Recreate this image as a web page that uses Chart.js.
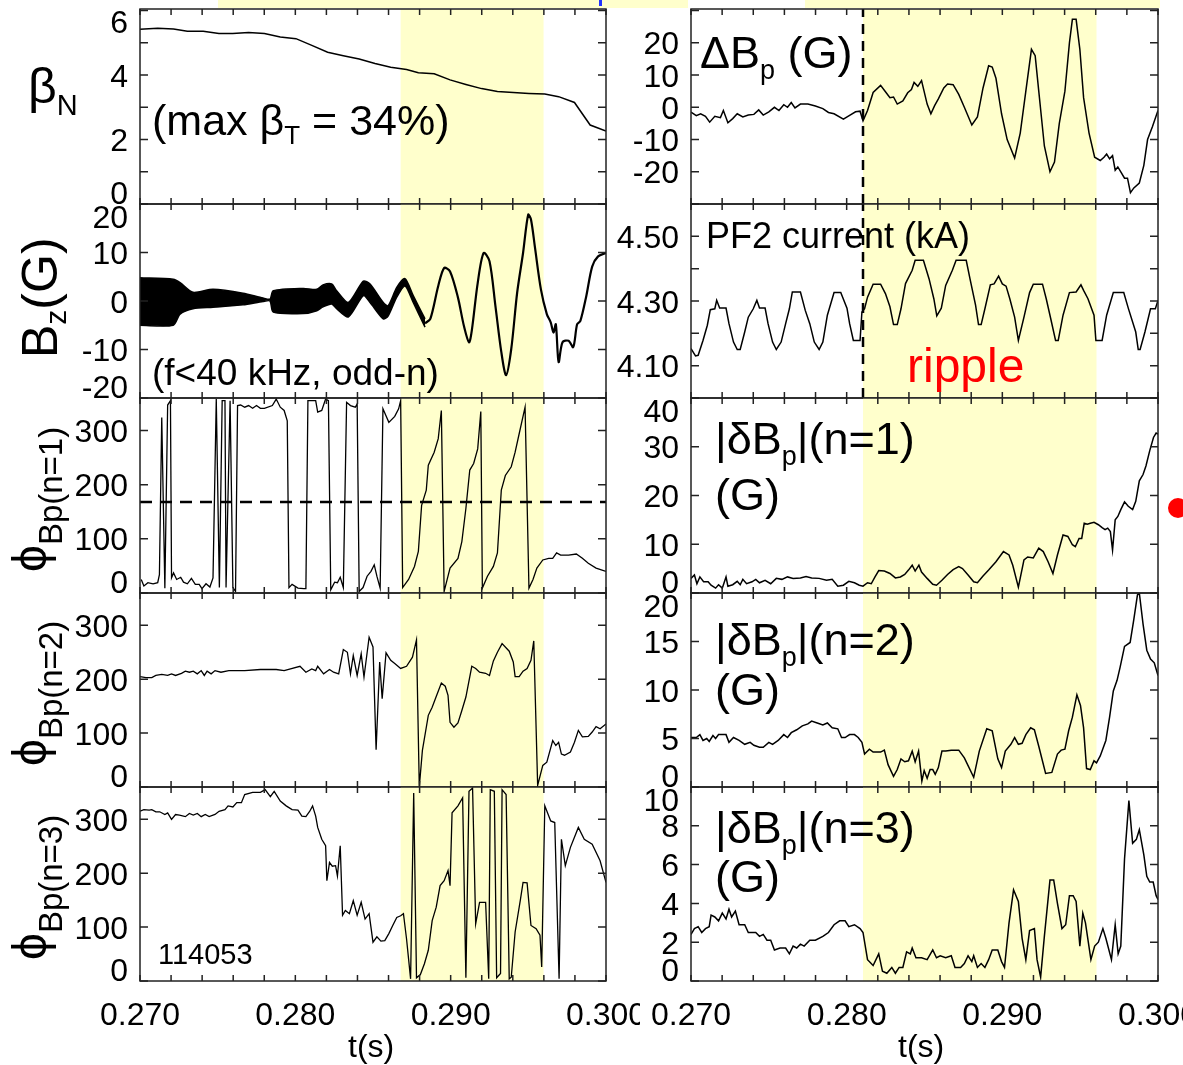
<!DOCTYPE html>
<html>
<head>
<meta charset="utf-8">
<script src="https://cdn.jsdelivr.net/npm/chart.js@4.4.0/dist/chart.umd.min.js"></script>
<style>
body{margin:0;width:1183px;height:1065px;overflow:hidden;background:#fff;position:relative;font-family:"Liberation Sans",Arial,sans-serif;color:#000}
canvas{position:absolute;z-index:1}
.t{position:absolute;white-space:nowrap;line-height:1;z-index:2}
.rot{transform:rotate(-90deg);transform-origin:0 0}
.s{position:relative}
.strip{position:absolute;top:0;height:8px;background:#ffffcc}
</style>
</head>
<body>
<div class="strip" style="left:218px;width:470px"></div>
<div class="strip" style="left:805px;width:355px"></div>
<div style="position:absolute;left:599px;top:0;width:3px;height:6px;background:#2233ff"></div>

<div class="t" style="left:28px;top:61px;font-size:50px">β<span class="s" style="font-size:29px;top:12px">N</span></div>
<div class="t" style="left:152px;top:99px;font-size:43px">(max β<span class="s" style="font-size:26px;top:9px">T</span> = 34%)</div>
<div class="t rot" style="left:15px;top:358px;font-size:50px">B<span class="s" style="font-size:30px;top:9px">z</span>(G)</div>
<div class="t" style="left:152px;top:354px;font-size:37px">(f&lt;40 kHz, odd-n)</div>
<div class="t rot" style="left:6px;top:572px;font-size:48px">ϕ<span class="s" style="font-size:33px;top:16px">Bp(n=1)</span></div>
<div class="t rot" style="left:6px;top:766px;font-size:48px">ϕ<span class="s" style="font-size:33px;top:16px">Bp(n=2)</span></div>
<div class="t rot" style="left:6px;top:960px;font-size:48px">ϕ<span class="s" style="font-size:33px;top:16px">Bp(n=3)</span></div>
<div class="t" style="left:158px;top:940px;font-size:29px">114053</div>

<div class="t" style="left:700px;top:30px;font-size:45px">ΔB<span class="s" style="font-size:27px;top:11px">p</span> (G)</div>
<div class="t" style="left:706px;top:218px;font-size:36px">PF2 current (kA)</div>
<div class="t" style="left:907px;top:342px;font-size:48px;color:#ff0000">ripple</div>
<div class="t" style="left:715px;top:416px;font-size:45px">|δB<span class="s" style="font-size:27px;top:11px">p</span>|(n=1)</div>
<div class="t" style="left:715px;top:472px;font-size:45px">(G)</div>
<div class="t" style="left:715px;top:617px;font-size:45px">|δB<span class="s" style="font-size:27px;top:11px">p</span>|(n=2)</div>
<div class="t" style="left:715px;top:667px;font-size:45px">(G)</div>
<div class="t" style="left:715px;top:805px;font-size:45px">|δB<span class="s" style="font-size:27px;top:11px">p</span>|(n=3)</div>
<div class="t" style="left:715px;top:854px;font-size:45px">(G)</div>

<div class="t" style="left:348px;top:1030px;font-size:32px">t(s)</div>
<div class="t" style="left:898px;top:1030px;font-size:32px">t(s)</div>
<div style="position:absolute;left:1168px;top:498px;width:20px;height:20px;border-radius:50%;background:#ff0000;z-index:2"></div>

<script>
// time axis
const T0 = 0.270, T1 = 0.300;
const xTicks = [0.270,0.272,0.274,0.276,0.278,0.280,0.282,0.284,0.286,0.288,0.290,0.292,0.294,0.296,0.298,0.300];
const xLabels = [0.270,0.280,0.290,0.300];
const shadeLeft = [0.28678, 0.29598];
const shadeRight = [0.28105, 0.29605];
const tRipple = 0.28105;
const phiRef = 168;

// beta_N
const tBetaN = [0.27000,0.27114,0.27216,0.27305,0.27407,0.27508,0.27597,0.27699,0.27801,0.27903,0.28004,0.28106,0.28208,0.28309,0.28411,0.28513,0.28614,0.28716,0.28792,0.28894,0.28996,0.29098,0.29199,0.29301,0.29403,0.29504,0.29606,0.29695,0.29797,0.29898,0.30000];
const betaN = [5.42,5.45,5.43,5.36,5.36,5.29,5.29,5.32,5.29,5.18,5.13,4.92,4.71,4.60,4.50,4.36,4.24,4.17,4.07,4.04,3.85,3.71,3.58,3.49,3.46,3.43,3.41,3.33,3.15,2.45,2.26];

// delta Bp
const tDeltaBp = [0.27000,0.27034,0.27062,0.27093,0.27120,0.27153,0.27189,0.27208,0.27237,0.27268,0.27297,0.27333,0.27368,0.27404,0.27435,0.27464,0.27500,0.27536,0.27565,0.27596,0.27620,0.27644,0.27668,0.27703,0.27751,0.27799,0.27847,0.27883,0.27919,0.27979,0.28019,0.28057,0.28086,0.28105,0.28134,0.28170,0.28218,0.28254,0.28278,0.28301,0.28325,0.28361,0.28392,0.28416,0.28433,0.28457,0.28481,0.28517,0.28541,0.28565,0.28589,0.28624,0.28648,0.28684,0.28720,0.28756,0.28804,0.28840,0.28876,0.28912,0.28935,0.28959,0.28995,0.29031,0.29079,0.29115,0.29151,0.29187,0.29211,0.29234,0.29270,0.29306,0.29335,0.29366,0.29402,0.29431,0.29450,0.29474,0.29498,0.29522,0.29557,0.29593,0.29629,0.29653,0.29670,0.29689,0.29708,0.29725,0.29742,0.29761,0.29785,0.29804,0.29823,0.29845,0.29880,0.29909,0.29933,0.29964,0.30000];
const deltaBp = [-1.5,-2.6,-2,-2.8,-4.6,-2.8,-3.2,-1,-4.8,-3.5,-2,-3,-2.4,-2.2,-0.8,-2.4,-1.4,0,-1,0.8,0,1.5,-0.2,1,1,0.4,-0.4,-1.6,-2,-3.7,-2.5,-1.4,-1.2,-4.2,-1,4.6,6.8,4.5,3,3.2,1,2,4.5,5.5,7.7,6.5,8.3,1,-2,0.5,2.6,6,7.2,7,4,0,-5.5,-3,6,12.9,12.5,9,-2,-10,-15.7,-8,5,18,16,5,-12,-20,-17,-5,5,20,27.3,27.3,18,3,-8,-15.5,-16.5,-15.5,-14.5,-16,-15,-19.5,-18.5,-20,-22,-22,-26.5,-25,-23.5,-18,-10,-6,-1];

// Bz: envelope of the fast oscillation, then the single trace
const tBzEnv = [0.27000,0.27214,0.27258,0.27341,0.27470,0.27663,0.27792,0.27837,0.27858,0.28051,0.28138,0.28178,0.28234,0.28266,0.28341,0.28438,0.28481,0.28566,0.28597,0.28653,0.28706,0.28759,0.28835];
const bzUpper = [4.8,4.5,3.8,1.8,2.4,1.6,0.6,0.4,2.1,2.6,2.4,3.3,3.5,2.1,-0.3,4.1,3.5,-0.3,-1.0,2.8,4.6,1.1,-3.7];
const bzLower = [-5.0,-5.0,-2.7,-1.6,-1.3,-0.8,-0.1,0.0,-2.3,-2.6,-2.0,-1.2,-0.6,-1.6,-3.3,1.1,-0.3,-3.7,-3.1,0.8,3.1,-0.3,-5.4];
const tBz = [0.28835,0.28869,0.28920,0.28958,0.28996,0.29047,0.29085,0.29118,0.29136,0.29174,0.29212,0.29250,0.29288,0.29326,0.29357,0.29390,0.29428,0.29466,0.29499,0.29517,0.29542,0.29581,0.29619,0.29644,0.29662,0.29677,0.29695,0.29720,0.29759,0.29789,0.29814,0.29835,0.29873,0.29911,0.29949,0.30000];
const bz = [-4.6,-3.7,3.1,6.8,6.1,0.7,-5.1,-8.5,-6.1,3.7,9.9,8.2,-1.0,-10.5,-15.3,-9.9,1.7,9.9,17.8,16.8,11.2,2.4,-2.7,-4.4,-6.5,-4.8,-12.6,-8.5,-8.2,-9.5,-4.8,-4.1,1.0,7.1,9.2,9.9];

// PF2 current
const tPf2 = [0.27000,0.27029,0.27046,0.27077,0.27105,0.27124,0.27153,0.27165,0.27184,0.27225,0.27244,0.27273,0.27297,0.27316,0.27345,0.27368,0.27400,0.27423,0.27440,0.27476,0.27495,0.27524,0.27548,0.27579,0.27608,0.27632,0.27651,0.27703,0.27734,0.27763,0.27792,0.27823,0.27847,0.27876,0.27919,0.27962,0.28002,0.28019,0.28043,0.28086,0.28098,0.28115,0.28134,0.28170,0.28218,0.28249,0.28278,0.28301,0.28325,0.28349,0.28378,0.28421,0.28440,0.28493,0.28529,0.28560,0.28579,0.28608,0.28636,0.28679,0.28703,0.28768,0.28792,0.28828,0.28847,0.28864,0.28888,0.28923,0.28947,0.28976,0.29000,0.29024,0.29048,0.29079,0.29103,0.29139,0.29175,0.29199,0.29258,0.29282,0.29311,0.29342,0.29359,0.29390,0.29431,0.29474,0.29505,0.29522,0.29550,0.29589,0.29601,0.29641,0.29670,0.29713,0.29780,0.29809,0.29857,0.29873,0.29885,0.29916,0.29952,0.29983,0.30000];
const pf2 = [4.153,4.130,4.132,4.178,4.225,4.273,4.276,4.302,4.278,4.278,4.230,4.173,4.150,4.150,4.204,4.250,4.276,4.302,4.278,4.278,4.230,4.173,4.150,4.173,4.230,4.276,4.328,4.328,4.271,4.230,4.173,4.150,4.173,4.256,4.326,4.326,4.278,4.230,4.178,4.178,4.266,4.276,4.312,4.352,4.352,4.323,4.282,4.227,4.227,4.276,4.354,4.395,4.426,4.426,4.369,4.307,4.254,4.278,4.348,4.395,4.426,4.426,4.369,4.287,4.227,4.227,4.276,4.350,4.353,4.377,4.353,4.346,4.307,4.250,4.178,4.250,4.326,4.352,4.352,4.307,4.245,4.178,4.178,4.256,4.326,4.328,4.350,4.333,4.307,4.256,4.178,4.178,4.256,4.326,4.326,4.278,4.204,4.150,4.150,4.204,4.276,4.276,4.302];

// phase n=1
const tPhi1 = [0.27008,0.27025,0.27051,0.27084,0.27114,0.27125,0.27140,0.27160,0.27178,0.27196,0.27203,0.27216,0.27236,0.27262,0.27280,0.27305,0.27331,0.27356,0.27381,0.27399,0.27425,0.27450,0.27470,0.27491,0.27511,0.27529,0.27547,0.27554,0.27580,0.27598,0.27615,0.27628,0.27648,0.27674,0.27699,0.27725,0.27750,0.27775,0.27801,0.27852,0.27877,0.27903,0.27928,0.27948,0.27959,0.27979,0.28017,0.28055,0.28068,0.28081,0.28106,0.28131,0.28144,0.28170,0.28195,0.28213,0.28228,0.28253,0.28271,0.28289,0.28309,0.28330,0.28355,0.28386,0.28398,0.28411,0.28436,0.28462,0.28487,0.28508,0.28525,0.28546,0.28564,0.28602,0.28640,0.28665,0.28678,0.28691,0.28729,0.28767,0.28792,0.28813,0.28843,0.28856,0.28894,0.28920,0.28940,0.28958,0.28996,0.29047,0.29072,0.29098,0.29123,0.29148,0.29174,0.29194,0.29204,0.29237,0.29275,0.29301,0.29326,0.29352,0.29390,0.29415,0.29441,0.29479,0.29504,0.29530,0.29555,0.29593,0.29631,0.29657,0.29682,0.29708,0.29759,0.29809,0.29848,0.29886,0.29936,0.30000];
const phi1 = [25,13,19,17,19,34,324,9,347,355,28,37,25,29,20,17,27,16,16,8,17,11,28,358,10,355,355,10,355,10,3,346,347,343,346,341,346,341,341,346,358,343,337,318,10,16,9,8,8,355,355,355,334,337,358,355,6,20,19,29,10,352,346,343,349,3,10,31,40,52,31,9,340,315,326,340,355,10,25,49,77,162,190,236,260,285,337,3,46,64,95,156,227,239,266,335,9,31,49,74,190,217,233,260,294,343,9,25,46,61,64,64,74,70,70,72,64,55,46,40];

// |dBp| n=1
const tAmp1 = [0.27000,0.27022,0.27038,0.27057,0.27081,0.27110,0.27129,0.27158,0.27177,0.27201,0.27225,0.27237,0.27268,0.27297,0.27316,0.27333,0.27357,0.27392,0.27416,0.27440,0.27476,0.27512,0.27548,0.27584,0.27620,0.27656,0.27703,0.27739,0.27775,0.27823,0.27871,0.27907,0.27943,0.27979,0.28014,0.28050,0.28081,0.28105,0.28134,0.28158,0.28182,0.28206,0.28242,0.28278,0.28313,0.28345,0.28373,0.28397,0.28421,0.28440,0.28464,0.28481,0.28517,0.28553,0.28577,0.28612,0.28648,0.28684,0.28720,0.28744,0.28780,0.28816,0.28840,0.28876,0.28912,0.28959,0.29007,0.29043,0.29067,0.29103,0.29139,0.29163,0.29199,0.29234,0.29263,0.29294,0.29325,0.29354,0.29390,0.29421,0.29450,0.29469,0.29493,0.29510,0.29526,0.29546,0.29565,0.29589,0.29617,0.29641,0.29660,0.29677,0.29694,0.29708,0.29725,0.29742,0.29761,0.29785,0.29809,0.29837,0.29857,0.29880,0.29904,0.29923,0.29947,0.29971,0.29988,0.30000];
const amp1 = [3.0,3.7,1.9,3.3,2.3,2.3,1.6,1.0,1.7,1.0,3.3,1.4,1.7,2.4,1.7,2.8,1.9,2.3,2.8,2.1,2.6,1.9,3.0,2.8,3.3,3.0,3.1,3.4,3.1,3.0,2.6,2.8,1.4,1.6,2.4,2.1,1.6,1.4,2.1,1.9,3.3,4.6,4.5,4.0,3.1,3.3,3.8,4.7,5.7,4.5,5.7,4.3,3.0,1.8,1.6,2.6,3.8,4.8,5.4,5.0,3.7,2.3,2.1,3.5,4.7,6.4,8.5,7.8,5.7,1.2,6.8,7.4,7.2,9.2,8.5,6.4,4.0,7.8,11.9,11.6,9.9,9.5,11.2,11.2,14.3,14.1,14.3,14.5,14.0,13.4,13.0,13.3,12.6,8.8,15.0,15.7,17.1,18.7,17.8,17.1,18.8,23.0,24.3,26.1,29.2,31.9,32.8,32.6];

// phase n=2
const tPhi2 = [0.27000,0.27038,0.27076,0.27102,0.27140,0.27178,0.27203,0.27229,0.27267,0.27292,0.27318,0.27343,0.27369,0.27394,0.27414,0.27432,0.27458,0.27483,0.27521,0.27572,0.27674,0.27775,0.27877,0.27928,0.28030,0.28068,0.28106,0.28131,0.28144,0.28182,0.28220,0.28246,0.28279,0.28309,0.28335,0.28355,0.28373,0.28398,0.28424,0.28442,0.28475,0.28500,0.28520,0.28543,0.28559,0.28584,0.28614,0.28640,0.28678,0.28716,0.28754,0.28780,0.28798,0.28818,0.28856,0.28881,0.28907,0.28940,0.28965,0.28983,0.28996,0.29021,0.29047,0.29072,0.29098,0.29136,0.29161,0.29186,0.29225,0.29250,0.29275,0.29301,0.29331,0.29377,0.29403,0.29415,0.29441,0.29466,0.29492,0.29517,0.29535,0.29560,0.29593,0.29619,0.29657,0.29677,0.29695,0.29713,0.29733,0.29771,0.29797,0.29822,0.29848,0.29886,0.29911,0.29936,0.29962,0.30000];
const phi2 = [205,203,203,207,209,207,210,207,211,215,213,215,210,216,207,215,210,216,213,216,216,218,218,216,224,213,219,216,224,210,218,213,210,255,250,210,244,207,247,204,278,260,69,232,164,249,235,229,220,224,241,273,0,68,133,148,168,193,187,170,120,111,119,142,167,224,220,213,211,207,234,250,266,252,232,205,205,215,220,235,271,3,40,46,86,77,83,61,59,65,83,105,93,94,102,112,108,117];

// |dBp| n=2
const tAmp2 = [0.27000,0.27034,0.27057,0.27077,0.27101,0.27117,0.27141,0.27158,0.27177,0.27225,0.27244,0.27273,0.27309,0.27345,0.27380,0.27404,0.27440,0.27464,0.27500,0.27524,0.27560,0.27596,0.27620,0.27644,0.27679,0.27715,0.27751,0.27775,0.27811,0.27847,0.27876,0.27907,0.27943,0.27967,0.27990,0.28019,0.28050,0.28074,0.28098,0.28115,0.28146,0.28170,0.28218,0.28242,0.28266,0.28301,0.28325,0.28349,0.28373,0.28397,0.28421,0.28440,0.28462,0.28483,0.28498,0.28517,0.28536,0.28553,0.28569,0.28589,0.28612,0.28636,0.28672,0.28720,0.28756,0.28816,0.28852,0.28900,0.28935,0.28971,0.28995,0.29019,0.29055,0.29079,0.29103,0.29127,0.29151,0.29182,0.29206,0.29234,0.29278,0.29318,0.29354,0.29378,0.29402,0.29426,0.29450,0.29479,0.29502,0.29522,0.29541,0.29565,0.29589,0.29605,0.29629,0.29665,0.29689,0.29713,0.29737,0.29756,0.29785,0.29821,0.29845,0.29868,0.29880,0.29904,0.29928,0.29952,0.29976,0.30000];
const amp2 = [5.1,5.1,5.4,4.8,5.0,4.7,5.3,5.0,5.4,5.4,4.6,5.1,4.8,4.4,4.6,4.3,4.1,4.1,4.6,4.4,4.8,5.4,5.1,5.6,5.9,6.3,6.5,6.8,6.6,6.4,6.6,6.1,6.0,5.1,5.1,5.4,5.4,5.1,4.6,3.4,3.9,3.6,3.6,3.8,2.3,1.1,1.8,2.9,2.6,2.7,3.7,2.6,3.7,0.6,1.7,0.9,1.8,1.8,1.3,2.0,3.7,3.7,3.8,3.8,3.0,1.0,3.7,6.0,5.8,2.9,2.0,3.7,4.4,5.1,4.4,4.5,5.4,6.1,5.9,4.2,1.4,1.5,3.4,3.8,3.9,5.8,7.2,9.5,8.4,6.1,1.9,1.8,2.7,2.5,3.2,4.8,7.2,9.9,11.0,12.3,14.5,14.9,17.3,19.8,20.0,16.8,14.1,13.2,12.8,11.5];

// phase n=3
const tPhi3 = [0.27000,0.27025,0.27059,0.27076,0.27102,0.27127,0.27160,0.27178,0.27203,0.27229,0.27254,0.27292,0.27318,0.27343,0.27369,0.27394,0.27420,0.27445,0.27483,0.27509,0.27547,0.27567,0.27598,0.27623,0.27653,0.27674,0.27725,0.27775,0.27806,0.27839,0.27864,0.27903,0.27941,0.27979,0.28017,0.28042,0.28068,0.28093,0.28111,0.28131,0.28144,0.28170,0.28195,0.28203,0.28220,0.28238,0.28259,0.28271,0.28289,0.28304,0.28322,0.28348,0.28373,0.28398,0.28424,0.28449,0.28475,0.28500,0.28525,0.28551,0.28576,0.28602,0.28627,0.28653,0.28678,0.28696,0.28716,0.28742,0.28762,0.28780,0.28805,0.28831,0.28856,0.28881,0.28907,0.28932,0.28958,0.28983,0.28996,0.29009,0.29047,0.29077,0.29098,0.29118,0.29141,0.29161,0.29186,0.29225,0.29245,0.29255,0.29281,0.29296,0.29321,0.29331,0.29357,0.29377,0.29390,0.29415,0.29448,0.29466,0.29492,0.29517,0.29550,0.29575,0.29586,0.29606,0.29644,0.29670,0.29698,0.29713,0.29738,0.29771,0.29822,0.29860,0.29911,0.29962,0.30000];
const phi3 = [315,318,317,318,314,314,309,312,300,309,308,305,311,308,311,305,309,305,309,315,318,325,323,331,331,346,350,350,355,342,352,334,325,318,317,306,305,315,325,306,285,263,251,186,220,213,214,195,251,122,131,125,149,122,146,115,125,72,82,74,75,88,103,118,121,125,78,4,349,6,12,32,57,112,137,177,186,205,177,312,325,340,6,352,358,106,146,146,4,355,352,6,14,355,346,4,7,91,149,183,182,103,97,85,26,325,297,294,4,263,214,248,285,263,254,223,183];

// |dBp| n=3
const tAmp3 = [0.27000,0.27022,0.27046,0.27069,0.27093,0.27117,0.27129,0.27153,0.27177,0.27201,0.27225,0.27244,0.27261,0.27285,0.27309,0.27345,0.27368,0.27392,0.27416,0.27440,0.27464,0.27488,0.27512,0.27536,0.27572,0.27608,0.27632,0.27656,0.27679,0.27703,0.27727,0.27763,0.27799,0.27847,0.27883,0.27919,0.27955,0.27990,0.28014,0.28050,0.28086,0.28105,0.28134,0.28170,0.28206,0.28230,0.28258,0.28290,0.28313,0.28337,0.28361,0.28385,0.28409,0.28421,0.28445,0.28481,0.28517,0.28553,0.28577,0.28601,0.28636,0.28672,0.28696,0.28732,0.28756,0.28780,0.28804,0.28816,0.28840,0.28864,0.28888,0.28912,0.28935,0.28971,0.28995,0.29014,0.29043,0.29072,0.29103,0.29127,0.29151,0.29175,0.29206,0.29223,0.29246,0.29270,0.29306,0.29330,0.29354,0.29383,0.29407,0.29431,0.29455,0.29474,0.29498,0.29517,0.29534,0.29569,0.29593,0.29617,0.29646,0.29665,0.29701,0.29725,0.29744,0.29761,0.29785,0.29813,0.29837,0.29861,0.29880,0.29909,0.29928,0.29947,0.29969,0.29988,0.30000];
const amp3 = [2.4,2.7,2.8,2.5,2.7,2.8,3.4,3.3,3.1,3.5,3.2,3.7,3.3,3.6,2.9,2.9,2.5,2.5,2.5,2.3,2.4,2.1,2.1,1.6,1.7,1.7,1.4,1.8,1.7,1.9,1.8,2.1,2.1,2.3,2.5,2.9,3.1,3.1,2.8,2.9,2.7,2.5,1.1,0.8,1.4,0.5,0.4,0.7,0.4,0.7,0.7,1.5,1.4,1.7,1.2,1.2,1.1,1.6,1.2,1.3,1.2,1.3,0.7,0.7,0.9,1.3,1.0,1.3,0.7,0.9,0.7,1.1,1.6,1.6,1.0,0.7,3.0,4.7,4.1,2.2,1.1,2.6,2.7,1.1,0.2,2.3,5.2,5.2,4.0,2.7,2.9,4.4,4.4,4.1,1.8,3.5,3.0,1.1,1.8,2.0,2.7,2.2,1.1,2.9,1.4,1.8,6.3,9.3,7.1,7.3,7.8,6.5,5.4,5.1,5.1,4.4,4.2];

// layout
const rowY = [9, 204, 398, 593, 787, 981];
const colL = [140, 606], colR = [691, 1158];
const FONT = '"Liberation Sans", Arial, sans-serif';

function line(t, v, extra) {
  return Object.assign({
    data: t.map((x, i) => ({x: x, y: v[i]})),
    borderColor: '#000', borderWidth: 1.5, pointRadius: 0, fill: false, tension: 0
  }, extra || {});
}

function panelPlugin(p) {
  return {
    id: 'panel',
    beforeDatasetsDraw(chart) {
      const a = chart.chartArea, x = chart.scales.x, ctx = chart.ctx;
      const x0 = x.getPixelForValue(p.shade[0]), x1 = x.getPixelForValue(p.shade[1]);
      ctx.save();
      ctx.fillStyle = '#ffffcc';
      ctx.fillRect(x0, a.top, x1 - x0, a.bottom - a.top);
      ctx.restore();
    },
    afterDatasetsDraw(chart) {
      const a = chart.chartArea, x = chart.scales.x, y = chart.scales.y, ctx = chart.ctx;
      ctx.save();
      ctx.strokeStyle = '#222';
      ctx.lineWidth = 1.5;
      ctx.strokeRect(a.left, a.top, a.right - a.left, a.bottom - a.top);
      ctx.beginPath();
      xTicks.forEach(v => {
        const px = x.getPixelForValue(v);
        ctx.moveTo(px, a.top); ctx.lineTo(px, a.top + 6);
        ctx.moveTo(px, a.bottom); ctx.lineTo(px, a.bottom - 6);
      });
      p.yTicks.forEach(v => {
        const py = y.getPixelForValue(v);
        ctx.moveTo(a.left, py); ctx.lineTo(a.left + 8, py);
        ctx.moveTo(a.right, py); ctx.lineTo(a.right - 8, py);
      });
      ctx.stroke();
      ctx.fillStyle = '#000';
      ctx.font = '32px ' + FONT;
      ctx.textAlign = 'right';
      ctx.textBaseline = 'alphabetic';
      p.yLabels.forEach(v => {
        let py = y.getPixelForValue(v);
        py = Math.min(Math.max(py, a.top + 12), a.bottom - 12);
        ctx.fillText(p.fmt ? p.fmt(v) : String(v), a.left - 12, py + 11.5);
      });
      if (p.bottom) {
        ctx.textAlign = 'center';
        xLabels.forEach(v => ctx.fillText(v.toFixed(3), x.getPixelForValue(v), a.bottom + 44));
      }
      ctx.restore();
    }
  };
}

function makePanel(p) {
  const c = document.createElement('canvas');
  const padB = p.bottom ? 90 : 30, padR = 34;
  const w = 140 + (p.col[1] - p.col[0]) + padR;
  const h = (rowY[p.row + 1] - rowY[p.row]) + 30 + padB;
  c.width = w; c.height = h;
  c.style.left = (p.col[0] - 140) + 'px';
  c.style.top = (rowY[p.row] - 30) + 'px';
  c.style.width = w + 'px'; c.style.height = h + 'px';
  document.body.appendChild(c);
  new Chart(c, {
    type: 'line',
    data: {datasets: p.series},
    options: {
      responsive: false, animation: false, devicePixelRatio: 1,
      layout: {padding: {left: 140, right: padR, top: 30, bottom: padB}},
      plugins: {legend: {display: false}, tooltip: {enabled: false}},
      scales: {
        x: {type: 'linear', min: T0, max: T1, display: false},
        y: {type: 'linear', min: p.min, max: p.max, display: false}
      }
    },
    plugins: [panelPlugin(p)]
  });
}

const dash = {borderDash: [10, 7], borderWidth: 2.5};

makePanel({col: colL, row: 0, min: 0, max: 6.05, shade: shadeLeft,
  yTicks: [0,1,2,3,4,5,6], yLabels: [0,2,4,6],
  series: [line(tBetaN, betaN)]});

makePanel({col: colR, row: 0, min: -30, max: 30.5, shade: shadeRight,
  yTicks: [-30,-20,-10,0,10,20,30], yLabels: [-20,-10,0,10,20],
  series: [line([tRipple, tRipple], [-30, 30.5], dash), line(tDeltaBp, deltaBp)]});

makePanel({col: colL, row: 1, min: -20, max: 20, shade: shadeLeft,
  yTicks: [-20,-10,0,10,20], yLabels: [-20,-10,0,10,20],
  series: [
    line(tBzEnv, bzUpper, {fill: '+1', backgroundColor: '#000', borderWidth: 1.5, tension: 0.25}),
    line(tBzEnv, bzLower, {borderWidth: 1.5, tension: 0.25}),
    line(tBz, bz, {borderWidth: 2.2, tension: 0.3})
  ]});

makePanel({col: colR, row: 1, min: 4.0, max: 4.6, shade: shadeRight,
  yTicks: [4.0,4.1,4.2,4.3,4.4,4.5,4.6], yLabels: [4.1,4.3,4.5], fmt: v => v.toFixed(2),
  series: [line([tRipple, tRipple], [4.0, 4.6], dash), line(tPf2, pf2)]});

makePanel({col: colL, row: 2, min: 0, max: 360, shade: shadeLeft,
  yTicks: [0,100,200,300], yLabels: [0,100,200,300],
  series: [line([T0, T1], [phiRef, phiRef], {borderDash: [12, 8], borderWidth: 2.5}), line(tPhi1, phi1, {borderWidth: 1.3})]});

makePanel({col: colR, row: 2, min: 0, max: 40, shade: shadeRight,
  yTicks: [0,10,20,30,40], yLabels: [0,10,20,30,40],
  series: [line(tAmp1, amp1)]});

makePanel({col: colL, row: 3, min: 0, max: 360, shade: shadeLeft,
  yTicks: [0,100,200,300], yLabels: [0,100,200,300],
  series: [line(tPhi2, phi2, {borderWidth: 1.3})]});

makePanel({col: colR, row: 3, min: 0, max: 20, shade: shadeRight,
  yTicks: [0,5,10,15,20], yLabels: [0,5,10,15,20],
  series: [line(tAmp2, amp2)]});

makePanel({col: colL, row: 4, min: 0, max: 360, shade: shadeLeft, bottom: true,
  yTicks: [0,100,200,300], yLabels: [0,100,200,300],
  series: [line(tPhi3, phi3, {borderWidth: 1.3})]});

makePanel({col: colR, row: 4, min: 0, max: 10, shade: shadeRight, bottom: true,
  yTicks: [0,2,4,6,8,10], yLabels: [0,2,4,6,8,10],
  series: [line(tAmp3, amp3)]});
</script>
</body>
</html>
